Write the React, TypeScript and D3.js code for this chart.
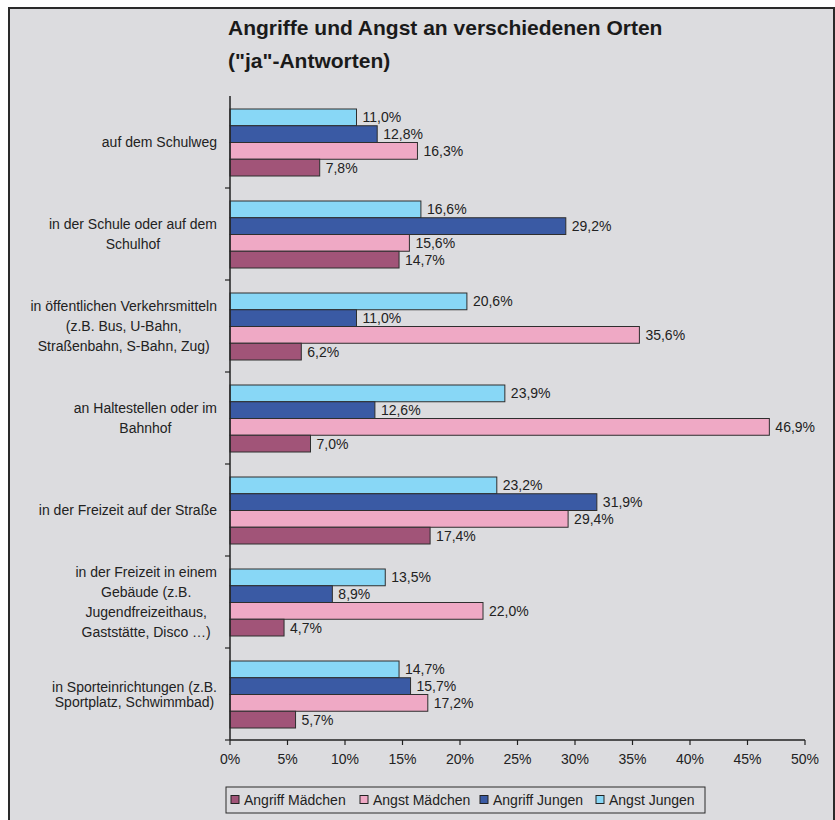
import React, { useEffect, useRef } from "react";
import * as d3 from "d3";

const categories: string[][] = [
  ["auf dem Schulweg"],
  ["in der Schule oder auf dem", "Schulhof"],
  ["in öffentlichen Verkehrsmitteln", "(z.B. Bus, U-Bahn,", "Straßenbahn, S-Bahn, Zug)"],
  ["an Haltestellen oder im", "Bahnhof"],
  ["in der Freizeit auf der Straße"],
  ["in der Freizeit in einem", "Gebäude (z.B.", "Jugendfreizeithaus,", "Gaststätte, Disco …)"],
  ["in Sporteinrichtungen (z.B.", "Sportplatz, Schwimmbad)"],
];

const seriesNames = ["Angriff Mädchen", "Angst Mädchen", "Angriff Jungen", "Angst Jungen"];
const angriffMaedchen = [7.8, 14.7, 6.2, 7.0, 17.4, 4.7, 5.7];
const angstMaedchen = [16.3, 15.6, 35.6, 46.9, 29.4, 22.0, 17.2];
const angriffJungen = [12.8, 29.2, 11.0, 12.6, 31.9, 8.9, 15.7];
const angstJungen = [11.0, 16.6, 20.6, 23.9, 23.2, 13.5, 14.7];
const xTicks = [0, 5, 10, 15, 20, 25, 30, 35, 40, 45, 50];

const colors = ["#a15478", "#efa9c5", "#3a5aa4", "#88d7f6"];
const FONT = "'Liberation Sans', Arial, sans-serif";

export default function App() {
  const ref = useRef<SVGSVGElement | null>(null);

  useEffect(() => {
    const svg = d3.select(ref.current);
    svg.selectAll("*").remove();

    const seriesData = [angriffMaedchen, angstMaedchen, angriffJungen, angstJungen];
    const left = 230, right = 805, top = 96, bottom = 740;

    // background frame
    svg.append("rect").attr("x", 9).attr("y", 8).attr("width", 825).attr("height", 840)
      .attr("fill", "#dcdcdf").attr("stroke", "#2a2a2a").attr("stroke-width", 2);

    // title
    const title = svg.append("text").attr("font-family", FONT).attr("font-weight", "bold")
      .attr("font-size", 21).attr("fill", "#1a1a1a");
    title.append("tspan").attr("x", 228).attr("y", 35).text("Angriffe und Angst an verschiedenen Orten");
    title.append("tspan").attr("x", 228).attr("y", 68).text("(\"ja\"-Antworten)");

    const x = d3.scaleLinear().domain([0, 50]).range([left, right]);
    const y = d3.scaleBand<number>().domain(d3.range(categories.length)).range([top, bottom]).padding(0);
    // inner order top to bottom: Angst Jungen, Angriff Jungen, Angst Mädchen, Angriff Mädchen
    const inner = d3.scaleBand<number>().domain([3, 2, 1, 0]).range([13, 80]).padding(0);

    const g = svg.append("g");
    categories.forEach((_, ci) => {
      const by = y(ci)!;
      [3, 2, 1, 0].forEach((si) => {
        const v = seriesData[si][ci];
        const yy = by + inner(si)!;
        g.append("rect").attr("x", x(0)).attr("y", yy).attr("width", x(v) - x(0))
          .attr("height", inner.bandwidth()).attr("fill", colors[si])
          .attr("stroke", "#2e2e2e").attr("stroke-width", 1);
        g.append("text").attr("x", x(v) + 6).attr("y", yy + inner.bandwidth() / 2)
          .attr("dy", "0.36em").attr("font-family", FONT).attr("font-size", 14)
          .attr("fill", "#222").text(v.toFixed(1).replace(".", ",") + "%");
      });

      // category label: block right-aligned, lines centered
      const lines = categories[ci];
      const lh = ci === 6 ? 15 : 20;
      const lg = svg.append("g");
      const texts = lines.map((ln, li) =>
        lg.append("text").attr("x", 0)
          .attr("y", by + y.bandwidth() / 2 + (li - (lines.length - 1) / 2) * lh)
          .attr("dy", "0.36em").attr("text-anchor", "middle")
          .attr("font-family", FONT).attr("font-size", 14).attr("fill", "#222").text(ln)
      );
      const w = d3.max(texts, (t) => (t.node() as SVGTextElement).getComputedTextLength()) || 0;
      lg.attr("transform", `translate(${217 - w / 2},0)`);
    });

    // axes
    svg.append("line").attr("x1", left).attr("x2", left).attr("y1", top).attr("y2", bottom)
      .attr("stroke", "#222").attr("stroke-width", 1.5);
    svg.append("line").attr("x1", left).attr("x2", right).attr("y1", bottom).attr("y2", bottom)
      .attr("stroke", "#222").attr("stroke-width", 1.5);
    d3.range(1, categories.length + 1).forEach((k) => {
      const yy = top + k * y.step();
      svg.append("line").attr("x1", left - 5).attr("x2", left).attr("y1", yy).attr("y2", yy)
        .attr("stroke", "#222").attr("stroke-width", 1.2);
    });
    xTicks.forEach((t) => {
      svg.append("line").attr("x1", x(t)).attr("x2", x(t)).attr("y1", bottom).attr("y2", bottom + 5)
        .attr("stroke", "#222").attr("stroke-width", 1.2);
      svg.append("text").attr("x", x(t)).attr("y", 759).attr("dy", "0.36em")
        .attr("text-anchor", "middle").attr("font-family", FONT).attr("font-size", 14)
        .attr("fill", "#222").text(t + "%");
    });

    // legend
    svg.append("rect").attr("x", 226).attr("y", 787).attr("width", 479).attr("height", 26)
      .attr("fill", "#dcdcdf").attr("stroke", "#2a2a2a").attr("stroke-width", 1);
    const legX = [231, 360, 480, 596];
    seriesNames.forEach((name, i) => {
      svg.append("rect").attr("x", legX[i]).attr("y", 795.5).attr("width", 8).attr("height", 8)
        .attr("fill", colors[i]).attr("stroke", "#222").attr("stroke-width", 1);
      svg.append("text").attr("x", legX[i] + 13).attr("y", 799.5).attr("dy", "0.36em")
        .attr("font-family", FONT).attr("font-size", 14).attr("fill", "#222").text(name);
    });
  }, []);

  return (
    <svg ref={ref} width={835} height={820}
      style={{ position: "absolute", left: 0, top: 0, background: "#fff" }} />
  );
}
